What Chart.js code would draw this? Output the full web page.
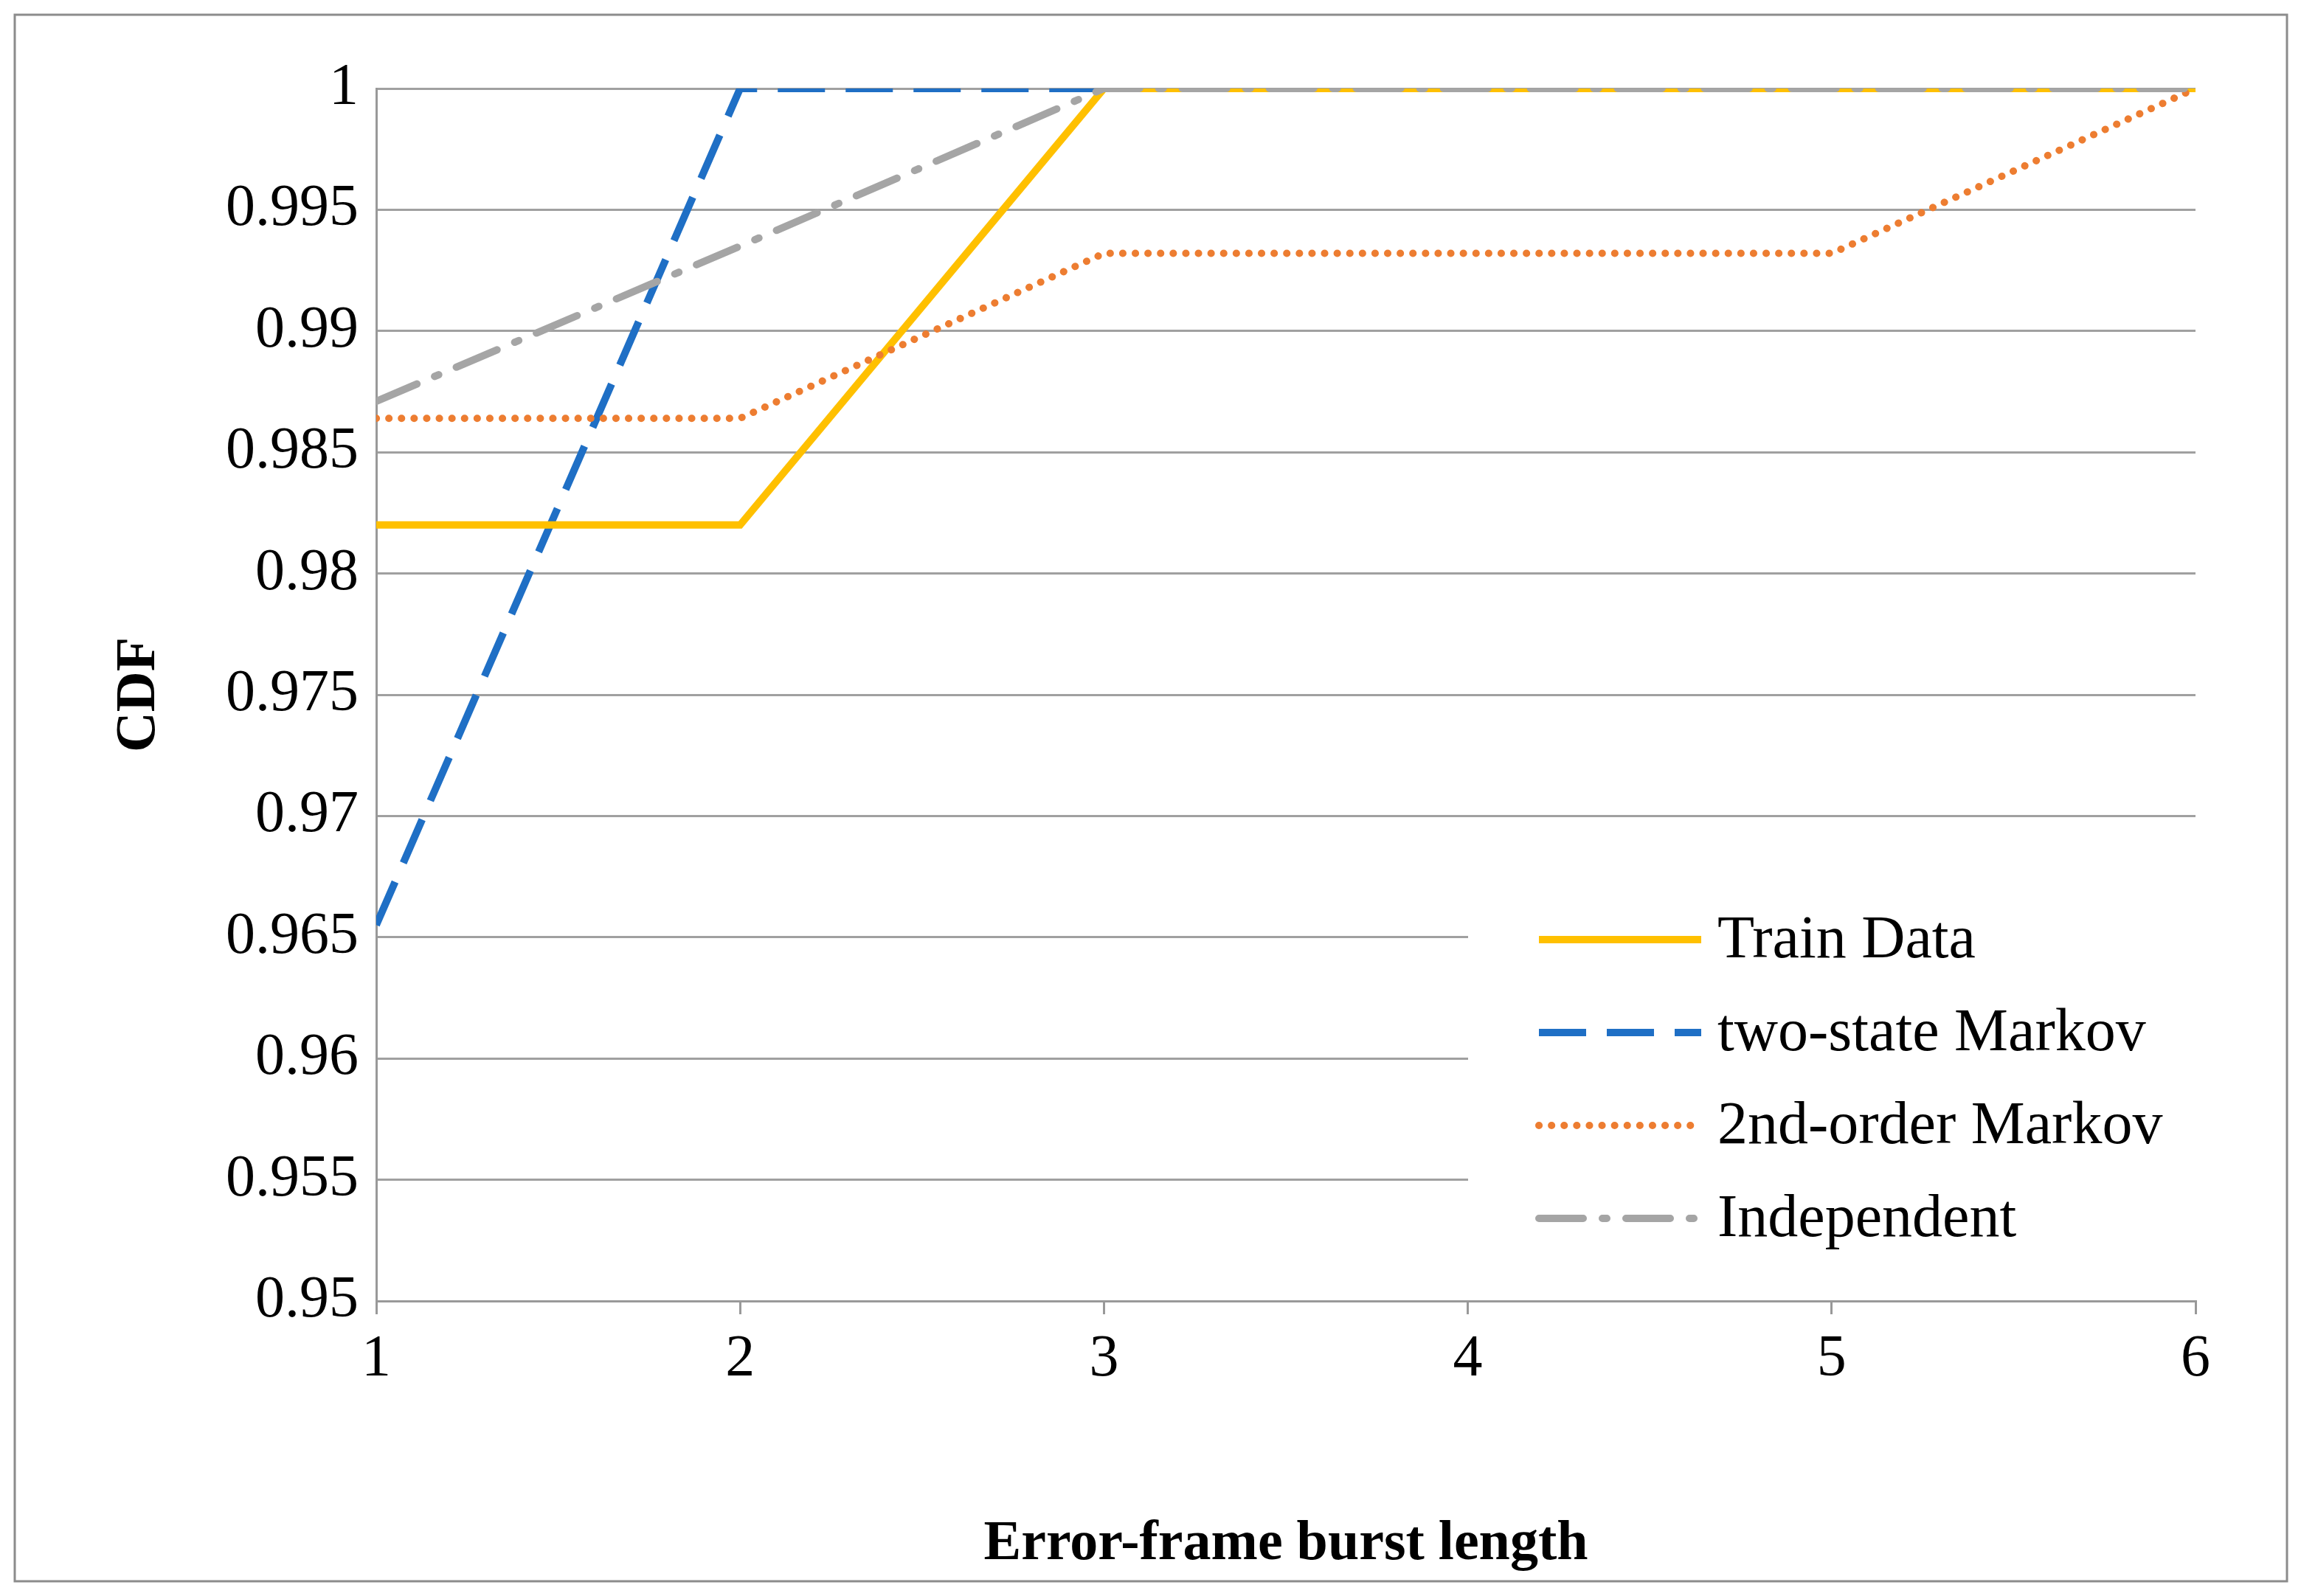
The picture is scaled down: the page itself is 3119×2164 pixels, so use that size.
<!DOCTYPE html>
<html><head><meta charset="utf-8">
<script src="https://cdn.jsdelivr.net/npm/chart.js@4/dist/chart.umd.min.js"></script>
<style>html,body{margin:0;padding:0;background:#fff}canvas{display:block}</style>
</head><body>
<div style="width:3119px;height:2164px"><canvas id="c"></canvas></div>
<script>
const burstLengths = [1, 2, 3, 4, 5, 6];
const trainData = [0.982, 0.982, 1, 1, 1, 1];
const twoStateMarkov = [0.9655, 1, 1, 1, 1, 1];
const secondOrderMarkov = [0.9864, 0.9864, 0.9932, 0.9932, 0.9932, 1];
const independent = [0.9871, 0.9935, 1, 1, 1, 1];
const seriesNames = ["Train Data", "two-state Markov", "2nd-order Markov", "Independent"];

const FONT = "'Liberation Serif', 'Times New Roman', serif";
const pts = arr => arr.map((v, i) => ({x: burstLengths[i], y: v}));
const styles = [
  {color: '#FFC000', dash: [], cap: 'butt'},
  {color: '#1F6FC5', dash: [64, 28], cap: 'butt'},
  {color: '#ED7D31', dash: [0.1, 17], cap: 'round'},
  {color: '#A5A5A5', dash: [60, 26, 6, 26], cap: 'round'}
];
const values = [trainData, twoStateMarkov, secondOrderMarkov, independent];
const datasets = values.map((v, i) => ({
  label: seriesNames[i], data: pts(v), borderColor: styles[i].color,
  borderWidth: 10, borderDash: styles[i].dash, borderCapStyle: styles[i].cap,
  pointRadius: 0, tension: 0, fill: false
}));
const ordered = [datasets[3], datasets[2], datasets[0], datasets[1]];

const framePlugin = {
  id: 'frame',
  afterDraw(chart) {
    const ctx = chart.ctx;
    ctx.save();
    ctx.strokeStyle = '#8c8c8c'; ctx.lineWidth = 3;
    ctx.strokeRect(20, 20, 3080, 2124);
    ctx.restore();
  },
  afterDatasetsDraw(chart) {
    const ctx = chart.ctx;
    ctx.save();
    ctx.fillStyle = '#fff';
    ctx.fillRect(1990, 1232, 1040, 470);
    const ys = [1274, 1400, 1526, 1652];
    for (let i = 0; i < 4; i++) {
      ctx.beginPath();
      ctx.strokeStyle = styles[i].color; ctx.lineWidth = 10;
      ctx.setLineDash(styles[i].dash); ctx.lineCap = styles[i].cap;
      ctx.moveTo(2086, ys[i]); ctx.lineTo(2306, ys[i]); ctx.stroke();
      ctx.setLineDash([]);
      ctx.fillStyle = '#000'; ctx.font = `82px ${FONT}`;
      ctx.textBaseline = 'middle'; ctx.textAlign = 'left';
      ctx.fillText(seriesNames[i], 2328, ys[i] + 2);
    }
    ctx.restore();
  }
};

new Chart(document.getElementById('c'), {
  type: 'line',
  data: {datasets: ordered},
  plugins: [framePlugin],
  options: {
    responsive: true, maintainAspectRatio: false, animation: false,
    layout: {padding: {left: 140, right: 143, top: 120, bottom: 20}},
    plugins: {legend: {display: false}, tooltip: {enabled: false}},
    scales: {
      x: {
        type: 'linear', min: 1, max: 6,
        ticks: {stepSize: 1, color: '#000', font: {family: FONT, size: 80}, padding: 14},
        grid: {drawOnChartArea: false, drawTicks: true, tickLength: 18, color: '#999', lineWidth: 3},
        border: {color: '#999', width: 3},
        title: {display: true, text: 'Error-frame burst length', color: '#000',
                font: {family: FONT, size: 76, weight: 'bold'}, padding: {top: 14}},
        afterFit(s) { s.height = 380; }
      },
      y: {
        min: 0.95, max: 1,
        ticks: {stepSize: 0.005, color: '#000', font: {family: FONT, size: 80}, padding: 24,
                callback: v => String(Number(v.toFixed(3)))},
        grid: {color: '#a0a0a0', lineWidth: 3, drawTicks: false},
        border: {color: '#999', width: 3},
        title: {display: true, text: 'CDF', color: '#000',
                font: {family: FONT, size: 76, weight: 'bold'}, padding: {bottom: 10}},
        afterFit(s) { s.width = 370; }
      }
    }
  }
});
</script>
</body></html>
